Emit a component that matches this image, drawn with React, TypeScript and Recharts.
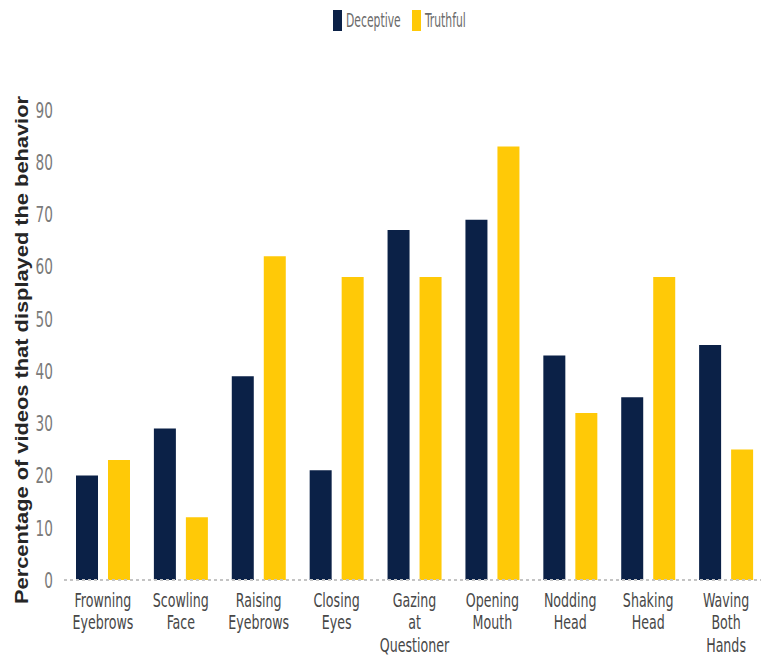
import { Bar, BarChart, Label, Legend, XAxis, YAxis } from 'recharts';

const NARROW = '"Liberation Sans Narrow", "Arial Narrow", "DejaVu Sans Condensed", "Liberation Sans", sans-serif';

const COLORS = {
    deceptive: '#0B2147',
    truthful: '#FFC907',
};

const categories = [
    'Frowning\nEyebrows',
    'Scowling\nFace',
    'Raising\nEyebrows',
    'Closing\nEyes',
    'Gazing\nat\nQuestioner',
    'Opening\nMouth',
    'Nodding\nHead',
    'Shaking\nHead',
    'Waving\nBoth\nHands',
];
const deceptive = [20, 29, 39, 21, 67, 69, 43, 35, 45];
const truthful = [23, 12, 62, 58, 58, 83, 32, 58, 25];
const yTicks = [0, 10, 20, 30, 40, 50, 60, 70, 80, 90];

const data = categories.map((name, i) => ({ name, Deceptive: deceptive[i], Truthful: truthful[i] }));

function XTick({ x, y, payload }: any) {
    const lines = String(payload.value).split('\n');
    return (
        <g transform={`translate(${x},${y}) scale(0.78,1.12)`}>
            <text textAnchor="middle" fill="#474747" fontSize={18} fontFamily={NARROW}>
                {lines.map((l, i) => (
                    <tspan key={i} x={0} dy={i === 0 ? 17 : 20}>
                        {l}
                    </tspan>
                ))}
            </text>
        </g>
    );
}

function YTick({ x, y, payload }: any) {
    return (
        <g transform={`translate(${x},${y}) scale(0.95,1.35)`}>
            <text x={0} y={0} dy="0.36em" textAnchor="end" fill="#7a7a7a" fontSize={16} fontFamily={NARROW}>
                {payload.value}
            </text>
        </g>
    );
}

function YLabel({ viewBox }: any) {
    const cy = viewBox.y + viewBox.height / 2 + 5;
    return (
        <text
            x={0}
            y={0}
            transform={`translate(28,${cy}) rotate(-90)`}
            textAnchor="middle"
            fill="#262626"
            fontSize={18}
            fontWeight="bold"
            textLength={508}
            lengthAdjust="spacingAndGlyphs"
            fontFamily='"Liberation Sans", Arial, sans-serif'
        >
            Percentage of videos that displayed the behavior
        </text>
    );
}

function LegendBox() {
    const item = (color: string, text: string, gap: number) => (
        <div style={{ display: 'flex', alignItems: 'center', marginRight: gap }}>
            <div style={{ width: 9, height: 21, background: color, marginRight: 4 }} />
            <span
                style={{
                    display: 'inline-block',
                    transform: 'scale(0.8,1.25)',
                    transformOrigin: 'left center',
                    color: '#6b6b6b',
                    fontSize: 15,
                }}
            >
                {text}
            </span>
        </div>
    );
    return (
        <div
            style={{
                position: 'relative',
                height: 24,
                fontFamily: NARROW,
            }}
        >
            <div style={{ position: 'absolute', left: 333, top: 0 }}>{item(COLORS.deceptive, 'Deceptive', 0)}</div>
            <div style={{ position: 'absolute', left: 412, top: 0 }}>{item(COLORS.truthful, 'Truthful', 0)}</div>
        </div>
    );
}

export default function App() {
    return (
        <div style={{ position: 'fixed', left: 0, top: 0, width: 761, height: 658, overflow: 'hidden', background: '#fff' }}>
            <BarChart
                width={775}
                height={658}
                data={data}
                margin={{ top: 86, right: 10, left: 0, bottom: 0 }}
                barSize={22}
                barGap={10}
            >
                <Legend
                    verticalAlign="top"
                    content={<LegendBox />}
                    wrapperStyle={{ top: 10, left: 0, width: 775 }}
                />
                <XAxis
                    dataKey="name"
                    interval={0}
                    height={78}
                    tickLine={false}
                    axisLine={{ stroke: '#c4c4c4', strokeWidth: 2, strokeDasharray: '3 3' }}
                    tick={<XTick />}
                />
                <YAxis
                    width={64}
                    domain={[0, 90]}
                    ticks={yTicks}
                    interval={0}
                    axisLine={false}
                    tickLine={false}
                    tickMargin={5}
                    tick={<YTick />}
                >
                    <Label content={<YLabel />} />
                </YAxis>
                <Bar dataKey="Deceptive" name="Deceptive" fill={COLORS.deceptive} isAnimationActive={false} />
                <Bar dataKey="Truthful" name="Truthful" fill={COLORS.truthful} isAnimationActive={false} />
            </BarChart>
        </div>
    );
}
